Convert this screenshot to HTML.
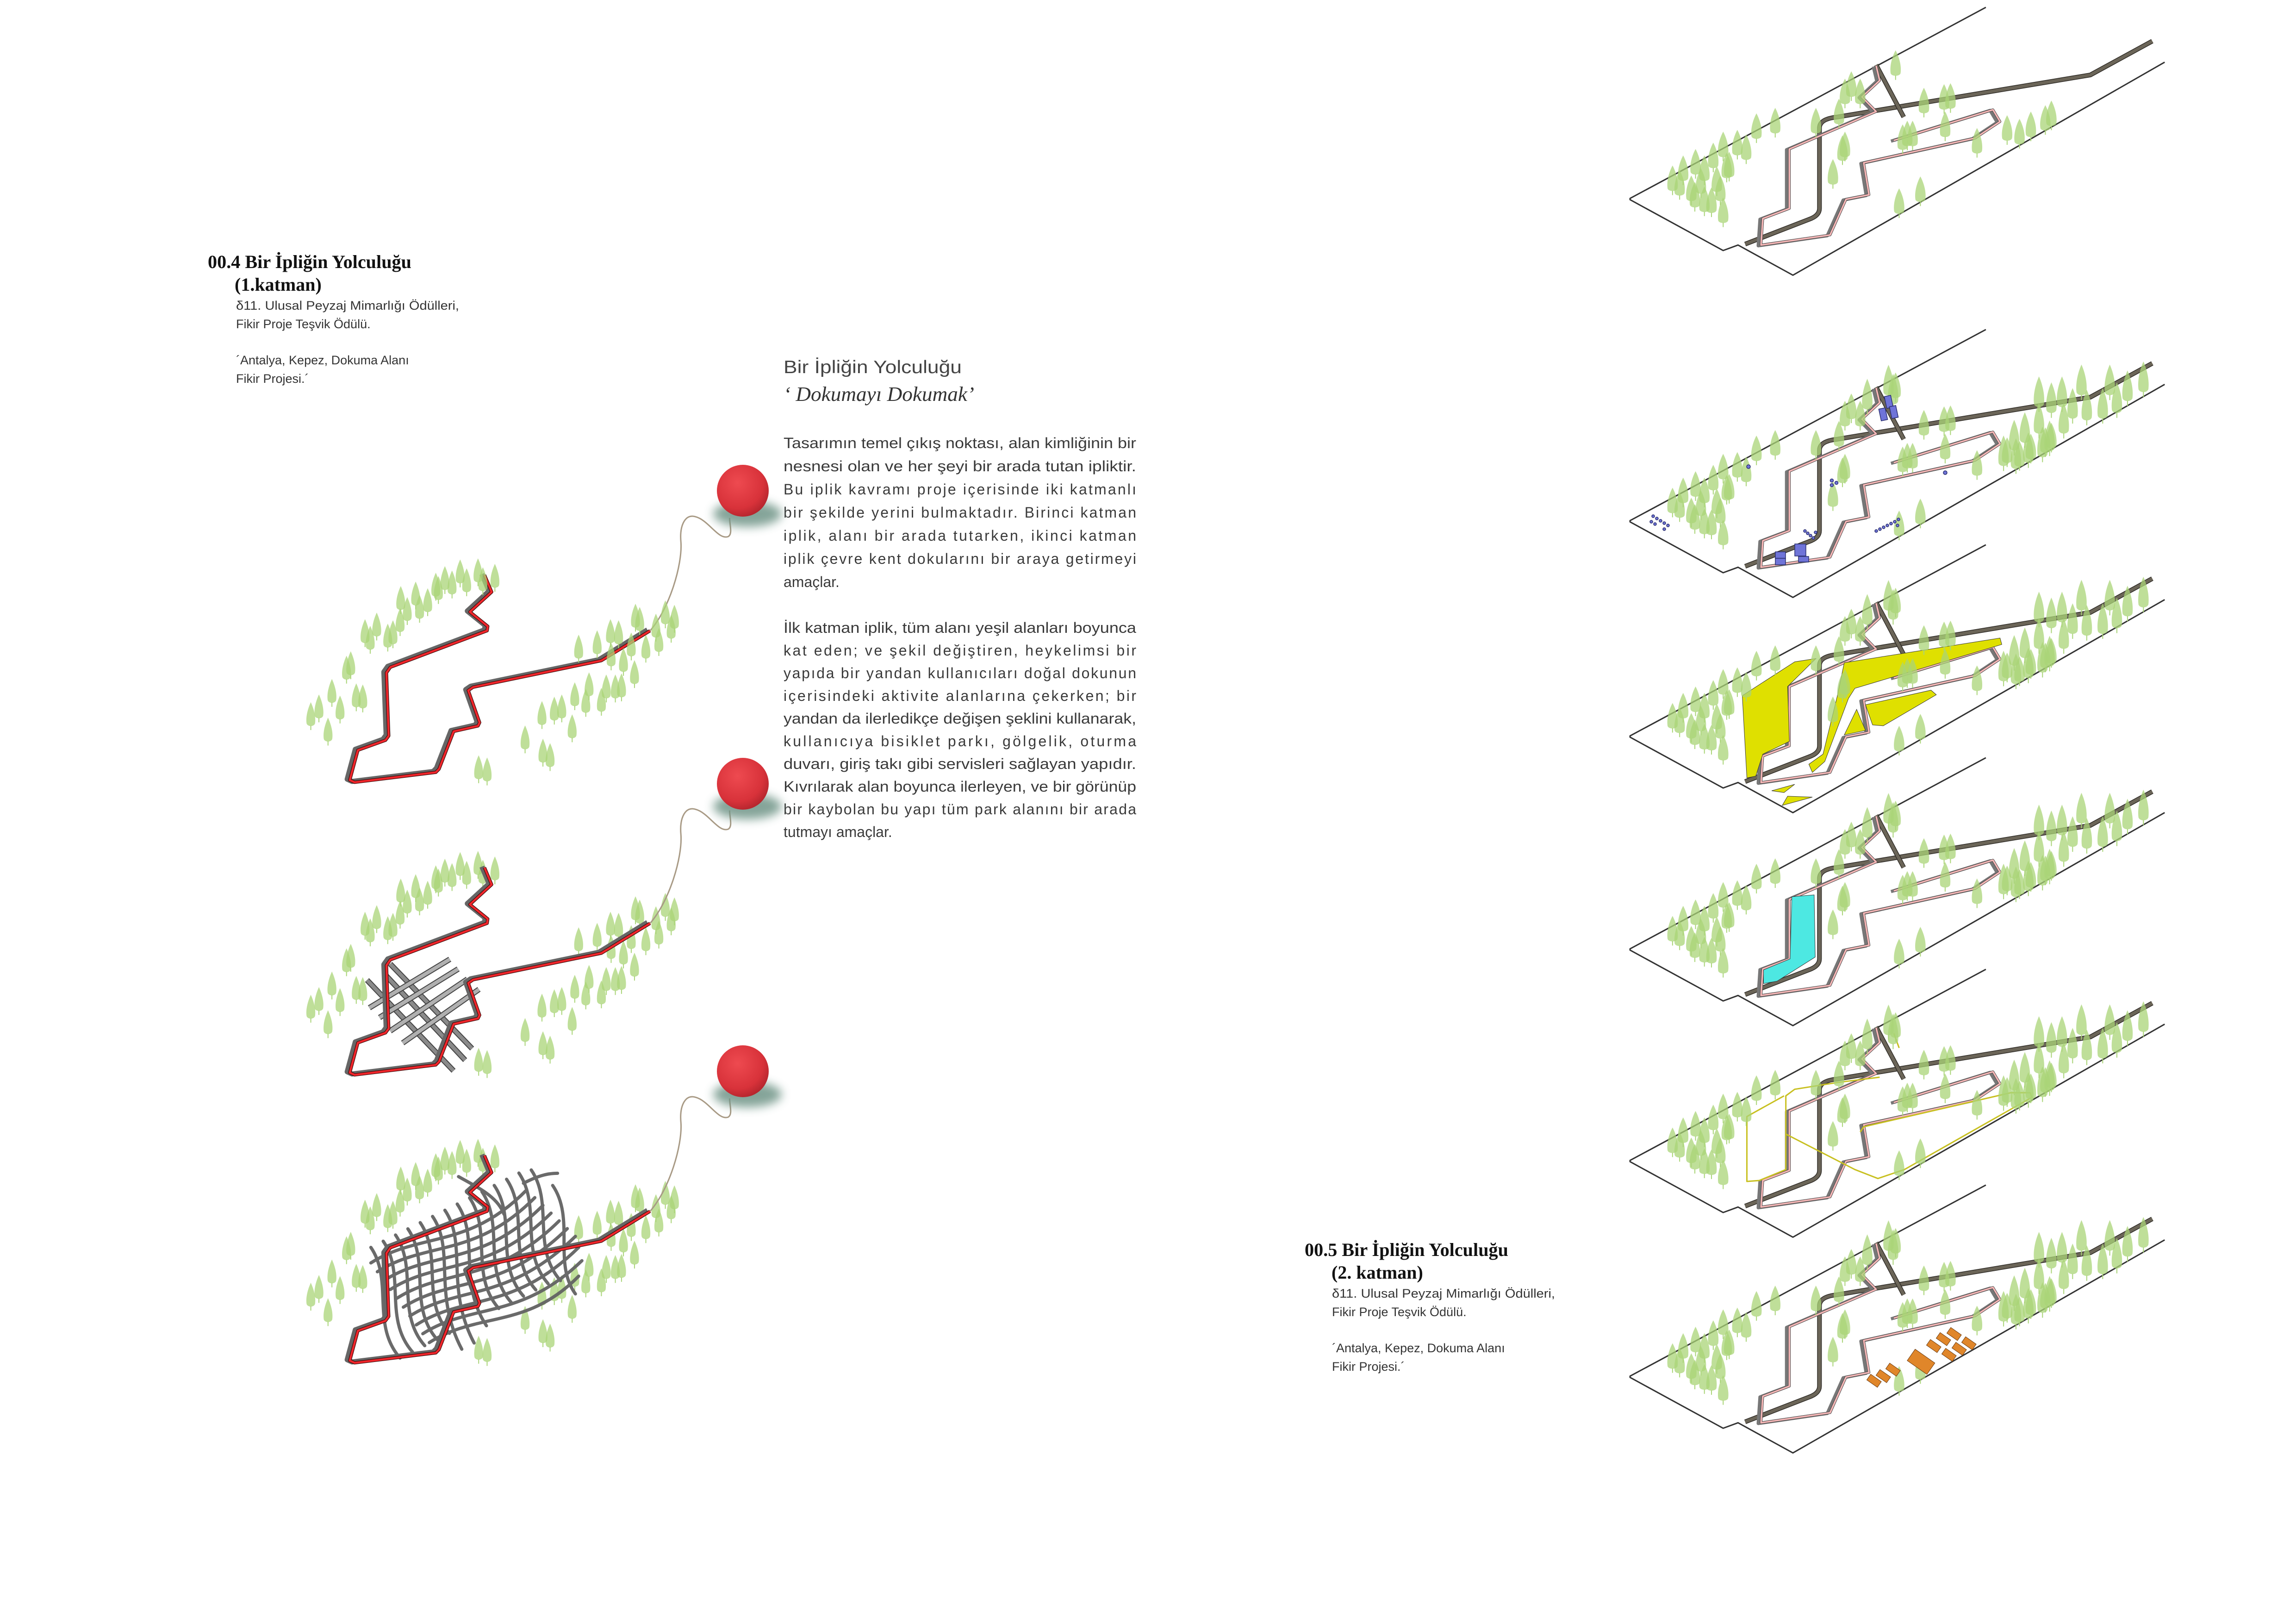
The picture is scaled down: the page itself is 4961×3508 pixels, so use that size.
<!DOCTYPE html>
<html><head><meta charset="utf-8">
<style>
html,body{margin:0;padding:0;background:#fff;}
svg{display:block;}
</style></head>
<body>
<svg xmlns="http://www.w3.org/2000/svg" xmlns:xlink="http://www.w3.org/1999/xlink" width="4961" height="3508" viewBox="0 0 4961 3508">
<defs>
  <symbol id="t" overflow="visible">
    <path d="M0,-62 C10,-30 16,6 13,34 C10,50 -10,50 -13,34 C-16,6 -10,-30 0,-62Z" fill="#a9d477" fill-opacity="0.75"/>
    <line x1="0" y1="44" x2="0" y2="64" stroke="#a9d477" stroke-width="2" vector-effect="non-scaling-stroke"/>
  </symbol>
  <symbol id="tp" overflow="visible">
    <path d="M0,-80 C11,-40 17,8 14,46 C11,64 -11,64 -14,46 C-17,8 -11,-40 0,-80Z" fill="#a9d477" fill-opacity="0.75"/>
    <line x1="0" y1="58" x2="0" y2="82" stroke="#a9d477" stroke-width="2" vector-effect="non-scaling-stroke"/>
  </symbol>
  <radialGradient id="ball" cx="0.4" cy="0.35" r="0.7">
    <stop offset="0" stop-color="#ee4a50"/>
    <stop offset="0.7" stop-color="#d8323a"/>
    <stop offset="1" stop-color="#b0242c"/>
  </radialGradient>
  <filter id="blur" x="-50%" y="-50%" width="200%" height="200%"><feGaussianBlur stdDeviation="10"/></filter>
  <g id="dpath">
    <path d="M580,548 L602,625 L535,715 L590,780 L588,800 L290,965 L278,990 L285,1275 L275,1295 L190,1340 L165,1475 L180,1485 L430,1440 L440,1425 L485,1255 L560,1230 L565,1215 L530,1070 L545,1055 L940,935 L1090,800" fill="none" stroke="#666" stroke-width="11" stroke-linejoin="round" vector-effect="non-scaling-stroke" transform="translate(-8,-4)"/>
    <path d="M580,548 L602,625 L535,715 L590,780 L588,800 L290,965 L278,990 L285,1275 L275,1295 L190,1340 L165,1475 L180,1485 L430,1440 L440,1425 L485,1255 L560,1230 L565,1215 L530,1070 L545,1055 L940,935 L1090,800" fill="none" stroke="#3a0a0a" stroke-width="7" stroke-linejoin="round" vector-effect="non-scaling-stroke"/>
    <path d="M580,548 L602,625 L535,715 L590,780 L588,800 L290,965 L278,990 L285,1275 L275,1295 L190,1340 L165,1475 L180,1485 L430,1440 L440,1425 L485,1255 L560,1230 L565,1215 L530,1070 L545,1055 L940,935 L1090,800" fill="none" stroke="#f0262b" stroke-width="4.5" stroke-linejoin="round" vector-effect="non-scaling-stroke"/>
    <path d="M1090,800 C1150,700 1190,500 1185,400 C1180,320 1200,270 1230,285 C1270,300 1300,390 1330,375 C1345,365 1335,320 1335,290" fill="none" stroke="#a89a85" stroke-width="3" vector-effect="non-scaling-stroke"/>
  </g>
  <g id="dtrees">
    <use href="#t" x="505" y="540"/><use href="#t" x="560" y="535"/><use href="#t" x="458" y="570"/><use href="#t" x="480" y="590"/><use href="#t" x="525" y="580"/><use href="#t" x="575" y="575"/><use href="#t" x="612" y="560"/><use href="#t" x="430" y="600"/><use href="#t" x="438" y="615"/><use href="#t" x="322" y="660"/><use href="#t" x="368" y="640"/><use href="#t" x="342" y="710"/><use href="#t" x="380" y="700"/><use href="#t" x="405" y="670"/><use href="#t" x="320" y="760"/><use href="#t" x="212" y="810"/><use href="#t" x="248" y="780"/><use href="#t" x="228" y="840"/><use href="#t" x="282" y="830"/><use href="#t" x="298" y="815"/><use href="#t" x="168" y="955"/><use href="#t" x="155" y="975"/><use href="#t" x="110" y="1080"/><use href="#t" x="70" y="1150"/><use href="#t" x="45" y="1185"/><use href="#t" x="135" y="1155"/><use href="#t" x="185" y="1100"/><use href="#t" x="205" y="1105"/><use href="#t" x="98" y="1255"/><use href="#t" x="1045" y="740"/><use href="#t" x="1058" y="755"/><use href="#t" x="1137" y="725"/><use href="#t" x="1165" y="745"/><use href="#t" x="1155" y="790"/><use href="#t" x="1108" y="785"/><use href="#t" x="1117" y="850"/><use href="#t" x="968" y="810"/><use href="#t" x="993" y="815"/><use href="#t" x="927" y="860"/><use href="#t" x="870" y="880"/><use href="#t" x="1032" y="870"/><use href="#t" x="970" y="915"/><use href="#t" x="1008" y="940"/><use href="#t" x="1077" y="880"/><use href="#t" x="1042" y="995"/><use href="#t" x="1002" y="1055"/><use href="#t" x="955" y="1060"/><use href="#t" x="983" y="1060"/><use href="#t" x="902" y="1050"/><use href="#t" x="858" y="1095"/><use href="#t" x="892" y="1125"/><use href="#t" x="940" y="1120"/><use href="#t" x="818" y="1150"/><use href="#t" x="795" y="1160"/><use href="#t" x="757" y="1180"/><use href="#t" x="850" y="1240"/><use href="#t" x="705" y="1290"/><use href="#t" x="760" y="1350"/><use href="#t" x="782" y="1370"/><use href="#t" x="562" y="1425"/><use href="#t" x="588" y="1435"/>
  </g>
  <g id="plate">
    <path d="M1060,40 L55,1085 L55,1092 L318,1370 L360,1340 L515,1505 L1565,340" fill="none" stroke="#333" stroke-width="3" stroke-linejoin="round" vector-effect="non-scaling-stroke"/>
    <path d="M380,1335 L560,1200 Q590,1180 590,1140 L590,700 Q590,650 640,640 L1355,410 L1530,225" fill="none" stroke="#2e2b26" stroke-width="10" stroke-linejoin="round" vector-effect="non-scaling-stroke"/>
    <path d="M380,1335 L560,1200 Q590,1180 590,1140 L590,700 Q590,650 640,640 L1355,410 L1530,225" fill="none" stroke="#6b6558" stroke-width="7" stroke-linejoin="round" vector-effect="non-scaling-stroke"/>
    <path d="M750,355 L828,640" fill="none" stroke="#2e2b26" stroke-width="10" vector-effect="non-scaling-stroke"/>
    <path d="M750,355 L828,640" fill="none" stroke="#6b6558" stroke-width="7" vector-effect="non-scaling-stroke"/>
    <path d="M800,768 L1080,600 L1100,665 L1030,755 L715,890 L730,1065 L665,1090 L620,1285 L425,1340 L430,1195 L505,1140 L505,815 L750,610 L710,530 L760,440 L750,360" fill="none" stroke="#777" stroke-width="7" stroke-linejoin="round" vector-effect="non-scaling-stroke" transform="translate(-8,4)"/>
    <path d="M800,768 L1080,600 L1100,665 L1030,755 L715,890 L730,1065 L665,1090 L620,1285 L425,1340 L430,1195 L505,1140 L505,815 L750,610 L710,530 L760,440 L750,360" fill="none" stroke="#444" stroke-width="5.5" stroke-linejoin="round" vector-effect="non-scaling-stroke"/>
    <path d="M800,768 L1080,600 L1100,665 L1030,755 L715,890 L730,1065 L665,1090 L620,1285 L425,1340 L430,1195 L505,1140 L505,815 L750,610 L710,530 L760,440 L750,360" fill="none" stroke="#f6b7b7" stroke-width="3.5" stroke-linejoin="round" vector-effect="non-scaling-stroke"/>
  </g>
  <g id="ptrees">
    <use href="#tp" x="805" y="355"/><use href="#tp" x="680" y="470"/><use href="#tp" x="705" y="510"/><use href="#tp" x="662" y="510"/><use href="#tp" x="645" y="620"/><use href="#tp" x="580" y="670"/><use href="#tp" x="412" y="700"/><use href="#tp" x="465" y="670"/><use href="#tp" x="318" y="800"/><use href="#tp" x="358" y="790"/><use href="#tp" x="383" y="815"/><use href="#tp" x="290" y="860"/><use href="#tp" x="240" y="895"/><use href="#tp" x="205" y="930"/><use href="#tp" x="175" y="985"/><use href="#tp" x="335" y="910"/><use href="#tp" x="328" y="915"/><use href="#tp" x="265" y="930"/><use href="#tp" x="300" y="990"/><use href="#tp" x="310" y="1040"/><use href="#tp" x="228" y="1040"/><use href="#tp" x="238" y="1075"/><use href="#tp" x="265" y="1100"/><use href="#tp" x="285" y="1105"/><use href="#tp" x="318" y="1160"/><use href="#tp" x="195" y="1010"/><use href="#tp" x="255" y="1000"/><use href="#tp" x="885" y="560"/><use href="#tp" x="942" y="540"/><use href="#tp" x="960" y="535"/><use href="#tp" x="945" y="690"/><use href="#tp" x="825" y="760"/><use href="#tp" x="838" y="740"/><use href="#tp" x="853" y="740"/><use href="#tp" x="662" y="800"/><use href="#tp" x="655" y="820"/><use href="#tp" x="628" y="950"/><use href="#tp" x="1035" y="780"/><use href="#tp" x="1120" y="710"/><use href="#tp" x="1155" y="730"/><use href="#tp" x="1187" y="690"/><use href="#tp" x="1228" y="655"/><use href="#tp" x="1245" y="630"/><use href="#tp" x="815" y="1110"/><use href="#tp" x="875" y="1045"/>
  </g>
  <g id="rtrees">
    <g transform="scale(1,1.2)">
    <use href="#tp" x="1210" y="327"/><use href="#tp" x="1245" y="354"/><use href="#tp" x="1275" y="327"/><use href="#tp" x="1330" y="273"/><use href="#tp" x="1410" y="273"/><use href="#tp" x="1505" y="259"/><use href="#tp" x="1210" y="448"/><use href="#tp" x="1280" y="448"/><use href="#tp" x="1240" y="528"/><use href="#tp" x="1305" y="380"/><use href="#tp" x="1345" y="388"/><use href="#tp" x="1390" y="380"/><use href="#tp" x="1430" y="354"/><use href="#tp" x="1460" y="300"/><use href="#tp" x="1110" y="596"/><use href="#tp" x="1145" y="609"/><use href="#tp" x="1180" y="582"/><use href="#tp" x="1220" y="556"/><use href="#tp" x="1170" y="490"/><use href="#tp" x="1140" y="525"/>
    <use href="#tp" x="725" y="338"/><use href="#tp" x="785" y="274"/><use href="#tp" x="798" y="315"/>
    </g>
  </g>
</defs>

<!-- ========== LEFT TITLE ========== -->
<g font-family="'Liberation Serif', serif" fill="#111">
  <text x="449" y="579" font-size="40" font-weight="bold" textLength="440" lengthAdjust="spacingAndGlyphs">00.4 Bir İpliğin Yolculuğu</text>
  <text x="507" y="628" font-size="40" font-weight="bold">(1.katman)</text>
</g>
<g font-family="'Liberation Sans', 'DejaVu Sans', sans-serif" fill="#333" font-size="27">
  <text x="510" y="669" textLength="482" lengthAdjust="spacingAndGlyphs">δ11. Ulusal Peyzaj Mimarlığı Ödülleri,</text>
  <text x="510" y="709">Fikir Proje Teşvik Ödülü.</text>
  <text x="510" y="787">´Antalya, Kepez, Dokuma Alanı</text>
  <text x="510" y="827">Fikir Projesi.´</text>
</g>

<!-- ========== RIGHT-BOTTOM TITLE ========== -->
<g font-family="'Liberation Serif', serif" fill="#111">
  <text x="2819" y="2713" font-size="40" font-weight="bold" textLength="440" lengthAdjust="spacingAndGlyphs">00.5 Bir İpliğin Yolculuğu</text>
  <text x="2877" y="2762" font-size="40" font-weight="bold">(2. katman)</text>
</g>
<g font-family="'Liberation Sans', 'DejaVu Sans', sans-serif" fill="#333" font-size="27">
  <text x="2878" y="2803" textLength="482" lengthAdjust="spacingAndGlyphs">δ11. Ulusal Peyzaj Mimarlığı Ödülleri,</text>
  <text x="2878" y="2843">Fikir Proje Teşvik Ödülü.</text>
  <text x="2878" y="2921">´Antalya, Kepez, Dokuma Alanı</text>
  <text x="2878" y="2961">Fikir Projesi.´</text>
</g>

<!-- ========== PARAGRAPH ========== -->
<text x="1693" y="806" font-family="'Liberation Sans', sans-serif" font-size="39" fill="#444" textLength="385" lengthAdjust="spacingAndGlyphs">Bir İpliğin Yolculuğu</text>
<text x="1693" y="866" font-family="'Liberation Serif', serif" font-style="italic" font-size="44" fill="#333" textLength="412" lengthAdjust="spacingAndGlyphs">‘ Dokumayı Dokumak’</text>
<g font-family="'Liberation Sans', sans-serif" font-size="32" fill="#3a3a3a">
  <text x="1693" y="968" textLength="762" lengthAdjust="spacingAndGlyphs">Tasarımın temel çıkış noktası, alan kimliğinin bir</text>
  <text x="1693" y="1018" textLength="762" lengthAdjust="spacingAndGlyphs">nesnesi olan ve her şeyi bir arada tutan ipliktir.</text>
  <text x="1693" y="1068" textLength="762" lengthAdjust="spacing">Bu iplik kavramı proje içerisinde iki katmanlı</text>
  <text x="1693" y="1118" textLength="762" lengthAdjust="spacing">bir şekilde yerini bulmaktadır. Birinci katman</text>
  <text x="1693" y="1168" textLength="762" lengthAdjust="spacing">iplik, alanı bir arada tutarken, ikinci katman</text>
  <text x="1693" y="1218" textLength="762" lengthAdjust="spacing">iplik çevre kent dokularını bir araya getirmeyi</text>
  <text x="1693" y="1268">amaçlar.</text>
  <text x="1693" y="1367" textLength="762" lengthAdjust="spacingAndGlyphs">İlk katman iplik, tüm alanı yeşil alanları boyunca</text>
  <text x="1693" y="1416" textLength="762" lengthAdjust="spacing">kat eden; ve şekil değiştiren, heykelimsi bir</text>
  <text x="1693" y="1465" textLength="762" lengthAdjust="spacing">yapıda bir yandan kullanıcıları doğal dokunun</text>
  <text x="1693" y="1514" textLength="762" lengthAdjust="spacing">içerisindeki aktivite alanlarına çekerken; bir</text>
  <text x="1693" y="1563" textLength="762" lengthAdjust="spacingAndGlyphs">yandan da ilerledikçe değişen şeklini kullanarak,</text>
  <text x="1693" y="1612" textLength="762" lengthAdjust="spacing">kullanıcıya bisiklet parkı, gölgelik, oturma</text>
  <text x="1693" y="1661" textLength="762" lengthAdjust="spacingAndGlyphs">duvarı, giriş takı gibi servisleri sağlayan yapıdır.</text>
  <text x="1693" y="1710" textLength="762" lengthAdjust="spacingAndGlyphs">Kıvrılarak alan boyunca ilerleyen, ve bir görünüp</text>
  <text x="1693" y="1759" textLength="762" lengthAdjust="spacing">bir kaybolan bu yapı tüm park alanını bir arada</text>
  <text x="1693" y="1808">tutmayı amaçlar.</text>
</g>

<!-- ========== LEFT DIAGRAMS ========== -->
<g transform="translate(640,980) scale(0.7015,0.478)">
  <use href="#dpath"/>
  <use href="#dtrees"/>
</g>
<g transform="translate(0,632)">
  <g transform="translate(640,980) scale(0.7015,0.478)">
    <use href="#dtrees"/>
  </g>
  <g stroke-linecap="butt" fill="none">
    <g stroke="#444" stroke-width="12">
      <line x1="793" y1="1485" x2="980" y2="1681"/><line x1="830" y1="1471" x2="1005" y2="1658"/><line x1="843" y1="1450" x2="1020" y2="1633"/>
    </g>
    <g stroke="#8a8a8a" stroke-width="8">
      <line x1="793" y1="1485" x2="980" y2="1681"/><line x1="830" y1="1471" x2="1005" y2="1658"/><line x1="843" y1="1450" x2="1020" y2="1633"/>
    </g>
    <g stroke="#444" stroke-width="12">
      <line x1="798" y1="1545" x2="972" y2="1440"/><line x1="820" y1="1566" x2="990" y2="1461"/><line x1="843" y1="1595" x2="1010" y2="1483"/><line x1="870" y1="1621" x2="1035" y2="1505"/>
    </g>
    <g stroke="#b0b0b0" stroke-width="8">
      <line x1="798" y1="1545" x2="972" y2="1440"/><line x1="820" y1="1566" x2="990" y2="1461"/><line x1="843" y1="1595" x2="1010" y2="1483"/><line x1="870" y1="1621" x2="1035" y2="1505"/>
    </g>
  </g>
  <g transform="translate(640,980) scale(0.7015,0.478)">
    <use href="#dpath"/>
  </g>
</g>
<g transform="translate(0,1254)">
  <g transform="translate(640,980) scale(0.7015,0.478)">
    <use href="#dtrees"/>
  </g>
</g>
<g transform="translate(640,2250) scale(0.7015,0.478)" fill="none" stroke="#636363" stroke-width="7" stroke-linecap="round" opacity="0.95">
  <g>
    <path vector-effect="non-scaling-stroke" d="M230,930 C300,1080 230,1280 320,1430"/>
    <path vector-effect="non-scaling-stroke" d="M268,902 C338,1052 268,1252 358,1402"/>
    <path vector-effect="non-scaling-stroke" d="M306,874 C376,1024 306,1224 396,1374"/>
    <path vector-effect="non-scaling-stroke" d="M344,846 C414,996 344,1196 434,1346"/>
    <path vector-effect="non-scaling-stroke" d="M382,818 C452,968 382,1168 472,1318"/>
    <path vector-effect="non-scaling-stroke" d="M420,790 C490,940 420,1140 510,1390"/>
    <path vector-effect="non-scaling-stroke" d="M458,762 C528,912 458,1112 548,1362"/>
    <path vector-effect="non-scaling-stroke" d="M496,734 C566,884 496,1084 586,1284"/>
    <path vector-effect="non-scaling-stroke" d="M534,706 C604,856 534,1056 624,1206"/>
    <path vector-effect="non-scaling-stroke" d="M572,678 C642,828 572,1028 662,1178"/>
    <path vector-effect="non-scaling-stroke" d="M610,650 C680,800 610,1000 700,1150"/>
    <path vector-effect="non-scaling-stroke" d="M648,622 C718,772 648,972 738,1122"/>
    <path vector-effect="non-scaling-stroke" d="M686,594 C756,744 686,944 776,1094"/>
    <path vector-effect="non-scaling-stroke" d="M724,580 C794,730 724,930 814,1080"/>
    <path vector-effect="non-scaling-stroke" d="M790,650 C860,800 790,1000 860,1140"/>
    <path vector-effect="non-scaling-stroke" d="M500,610 C560,660 620,700 640,780"/>
  </g>
  <g>
    <path vector-effect="non-scaling-stroke" d="M230,1000 C380,860 530,940 710,670"/>
    <path vector-effect="non-scaling-stroke" d="M250,1040 C400,900 550,980 735,705"/>
    <path vector-effect="non-scaling-stroke" d="M270,1080 C420,940 570,1020 760,740"/>
    <path vector-effect="non-scaling-stroke" d="M290,1120 C440,980 590,1060 785,775"/>
    <path vector-effect="non-scaling-stroke" d="M310,1160 C460,1020 610,1100 810,810"/>
    <path vector-effect="non-scaling-stroke" d="M330,1200 C480,1060 630,1140 835,845"/>
    <path vector-effect="non-scaling-stroke" d="M350,1240 C500,1100 650,1180 860,880"/>
    <path vector-effect="non-scaling-stroke" d="M370,1280 C520,1140 670,1220 870,930"/>
    <path vector-effect="non-scaling-stroke" d="M390,1320 C540,1180 690,1260 880,990"/>
    <path vector-effect="non-scaling-stroke" d="M410,1360 C560,1220 710,1300 870,1060"/>
    <path vector-effect="non-scaling-stroke" d="M700,640 C740,610 770,595 805,595"/>
  </g>
</g>
<g transform="translate(0,1254)">
  <g transform="translate(640,980) scale(0.7015,0.478)">
    <use href="#dpath"/>
  </g>
</g>

<!-- balls -->
<g>
  <ellipse cx="1615" cy="1110" rx="74" ry="28" fill="#6f9487" filter="url(#blur)" opacity="0.85"/>
  <circle cx="1605" cy="1060" r="56" fill="url(#ball)"/>
  <ellipse cx="1615" cy="1742" rx="74" ry="28" fill="#6f9487" filter="url(#blur)" opacity="0.85"/>
  <circle cx="1605" cy="1693" r="56" fill="url(#ball)"/>
  <ellipse cx="1615" cy="2364" rx="74" ry="28" fill="#6f9487" filter="url(#blur)" opacity="0.85"/>
  <circle cx="1605" cy="2314" r="56" fill="url(#ball)"/>
</g>

<!-- ========== PLATES ========== -->
<g transform="translate(3480,0) scale(0.765,0.395)">
  <use href="#plate"/>
  <use href="#ptrees"/>
</g>
<g transform="translate(3480,696) scale(0.765,0.395)">
  <use href="#plate"/>
  <use href="#ptrees"/>
  <use href="#rtrees"/>
</g>
<g fill="#6f74d8" stroke="#2a2e70" stroke-width="1.5">
  <rect x="4074" y="855" width="14" height="26" transform="rotate(-12 4081 868)"/>
  <rect x="4062" y="882" width="14" height="26" transform="rotate(-12 4069 895)"/>
  <rect x="4085" y="877" width="14" height="26" transform="rotate(-12 4092 890)"/>
  <rect x="3878" y="1175" width="24" height="26"/>
  <rect x="3836" y="1192" width="22" height="14"/>
  <rect x="3836" y="1206" width="22" height="14"/>
  <rect x="3886" y="1202" width="22" height="12"/>
  <circle cx="3778" cy="1008" r="4"/><circle cx="4203" cy="1021" r="4"/>
  <circle cx="3958" cy="1038" r="3.5"/><circle cx="3958" cy="1048" r="3.5"/><circle cx="3968" cy="1043" r="3.5"/>
  <circle cx="3572" cy="1115" r="3"/><circle cx="3580" cy="1120" r="3"/><circle cx="3588" cy="1125" r="3"/><circle cx="3596" cy="1130" r="3"/><circle cx="3604" cy="1135" r="3"/><circle cx="3568" cy="1127" r="3"/><circle cx="3576" cy="1132" r="3"/><circle cx="3596" cy="1143" r="3"/>
  <circle cx="3900" cy="1147" r="3"/><circle cx="3906" cy="1152" r="3"/><circle cx="3912" cy="1157" r="3"/><circle cx="3918" cy="1162" r="3"/><circle cx="3923" cy="1150" r="3"/>
  <circle cx="4054" cy="1147" r="3"/><circle cx="4062" cy="1143" r="3"/><circle cx="4070" cy="1139" r="3"/><circle cx="4078" cy="1135" r="3"/><circle cx="4086" cy="1131" r="3"/><circle cx="4094" cy="1127" r="3"/><circle cx="4102" cy="1122" r="3"/><circle cx="4100" cy="1135" r="3"/>
</g>
<g transform="translate(3480,1161) scale(0.765,0.395)">
  <use href="#plate"/>
  <g fill="#dfe000" stroke="#333" stroke-width="1">
    <path vector-effect="non-scaling-stroke" d="M372,865 L520,680 L580,662 L500,815 L505,1115 L430,1185 L410,1305 L385,1315 Z"/>
    <path vector-effect="non-scaling-stroke" d="M660,685 L1100,550 L1105,585 L690,825 L672,880 L605,1225 L570,1285 L560,1240 L600,1185 L640,870 Z"/>
    <path vector-effect="non-scaling-stroke" d="M720,915 L905,835 L920,860 L770,1030 L740,1025 Z"/>
    <path vector-effect="non-scaling-stroke" d="M660,1080 L695,940 L720,1055 Z"/>
    <path vector-effect="non-scaling-stroke" d="M455,1385 L520,1350 L490,1395 Z"/>
    <path vector-effect="non-scaling-stroke" d="M485,1465 L500,1415 L570,1420 Z"/>
  </g>
  <use href="#ptrees"/>
  <use href="#rtrees"/>
</g>
<g transform="translate(3480,1621) scale(0.765,0.395)">
  <use href="#plate"/>
  <path d="M512,800 L575,790 L578,1130 L470,1262 L432,1275 L432,1200 L507,1140 Z" fill="#4de8e2" stroke="#333" stroke-width="1" vector-effect="non-scaling-stroke"/>
  <use href="#ptrees"/>
  <use href="#rtrees"/>
</g>
<g transform="translate(3480,2078) scale(0.765,0.395)">
  <use href="#plate"/>
  <g fill="none" stroke="#c8c020" stroke-width="3" stroke-linejoin="round">
    <path vector-effect="non-scaling-stroke" d="M490,732 L385,845 L385,1200 L420,1195 L495,1135 L495,732 L520,696 L640,659 L760,630"/>
    <path vector-effect="non-scaling-stroke" d="M495,941 L690,1135 L755,1184 L830,1135 L1190,740 L1185,715 L1130,715 L715,901 L705,930"/>
    <path vector-effect="non-scaling-stroke" d="M800,390 L815,470"/>
  </g>
  <use href="#ptrees"/>
  <use href="#rtrees"/>
</g>
<g transform="translate(3480,2544) scale(0.765,0.395)">
  <use href="#plate"/>
  <use href="#ptrees"/>
  <use href="#rtrees"/>
</g>
<g fill="#e0862a" stroke="#6a3a10" stroke-width="1">
  <rect x="4035" y="2975" width="28" height="15" transform="rotate(35 4049 2983)"/>
  <rect x="4055" y="2965" width="28" height="15" transform="rotate(35 4069 2973)"/>
  <rect x="4076" y="2951" width="28" height="15" transform="rotate(35 4090 2959)"/>
  <rect x="4125" y="2926" width="52" height="30" transform="rotate(35 4150 2941)"/>
  <rect x="4164" y="2900" width="28" height="15" transform="rotate(35 4178 2908)"/>
  <rect x="4185" y="2885" width="28" height="15" transform="rotate(35 4199 2893)"/>
  <rect x="4208" y="2874" width="28" height="15" transform="rotate(35 4222 2882)"/>
  <rect x="4240" y="2894" width="28" height="15" transform="rotate(35 4254 2902)"/>
  <rect x="4219" y="2906" width="28" height="15" transform="rotate(35 4233 2914)"/>
  <rect x="4197" y="2919" width="28" height="15" transform="rotate(35 4211 2927)"/>
</g>
</svg>
</body></html>
